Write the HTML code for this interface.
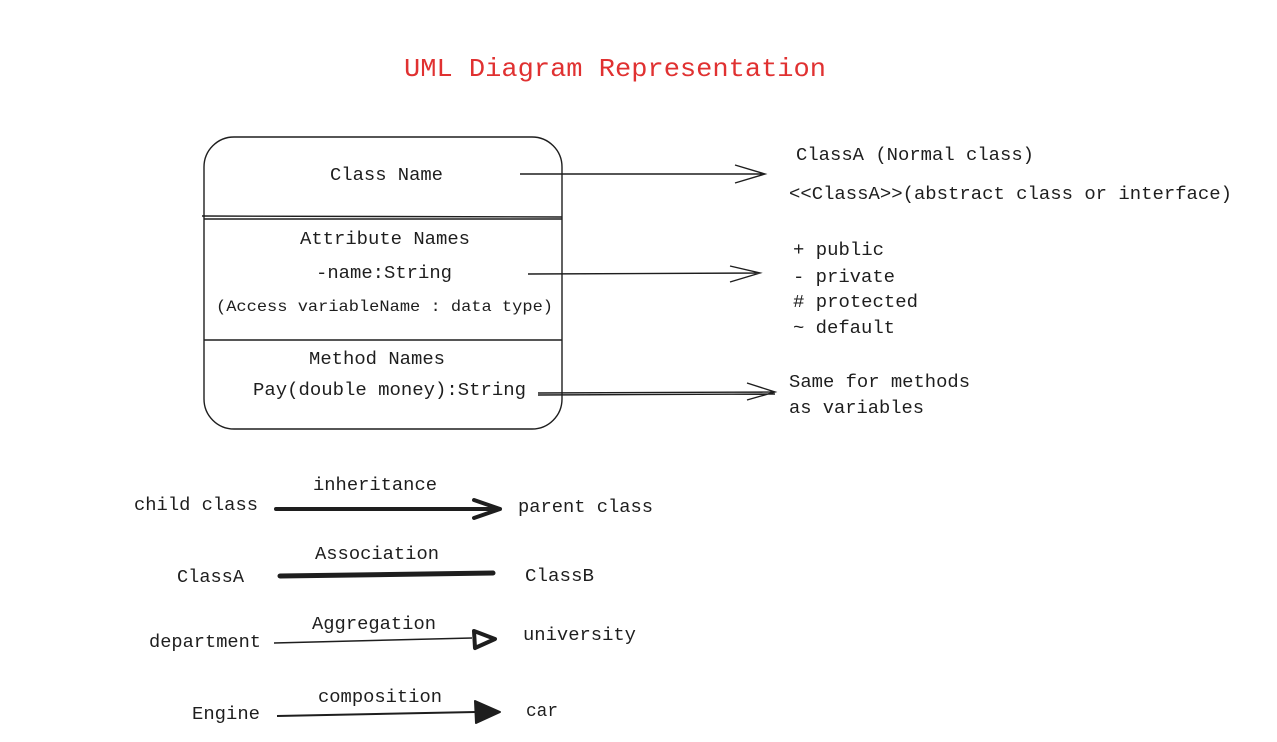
<!DOCTYPE html>
<html><head><meta charset="utf-8"><style>
html,body{margin:0;padding:0;background:#fff;}
svg{display:block;}
text{font-family:"Liberation Mono",monospace;fill:#1e1e1e;font-size:18px;}
</style></head><body>
<svg width="1277" height="742" viewBox="0 0 1277 742" xmlns="http://www.w3.org/2000/svg">
<rect width="1277" height="742" fill="#fff"/>
<text x="404" y="76" textLength="422" lengthAdjust="spacingAndGlyphs" style="font-size:26px;fill:#e03131">UML Diagram Representation</text>

<g fill="none" stroke="#1e1e1e" stroke-width="1.4">
<rect x="204" y="137" width="358" height="292" rx="30"/>
<line x1="202" y1="216" x2="562" y2="217"/>
<line x1="204" y1="219" x2="562" y2="219"/>
<line x1="204" y1="340" x2="562" y2="340"/>
<path d="M520 174 L765 174 M735 165 L765 174 L735 183"/>
<path d="M528 274 L760 273 M730 266 L760 273 L730 282"/>
<path d="M538 393 L775 392 M747 383 L775 392 L747 400 M538 395 L775 394"/>
</g>
<text x="330" y="180" textLength="113" lengthAdjust="spacingAndGlyphs">Class Name</text>
<text x="300" y="244" textLength="170" lengthAdjust="spacingAndGlyphs">Attribute Names</text>
<text x="316" y="278" textLength="136" lengthAdjust="spacingAndGlyphs">-name:String</text>
<text x="216" y="311" textLength="337" lengthAdjust="spacingAndGlyphs" style="font-size:16px">(Access variableName : data type)</text>
<text x="309" y="364" textLength="136" lengthAdjust="spacingAndGlyphs">Method Names</text>
<text x="253" y="395" textLength="273" lengthAdjust="spacingAndGlyphs">Pay(double money):String</text>

<text x="796" y="160" textLength="238" lengthAdjust="spacingAndGlyphs">ClassA (Normal class)</text>
<text x="789" y="199" textLength="443" lengthAdjust="spacingAndGlyphs">&lt;&lt;ClassA&gt;&gt;(abstract class or interface)</text>
<text x="793" y="255" textLength="91" lengthAdjust="spacingAndGlyphs">+ public</text>
<text x="793" y="282" textLength="102" lengthAdjust="spacingAndGlyphs">- private</text>
<text x="793" y="307" textLength="125" lengthAdjust="spacingAndGlyphs"># protected</text>
<text x="793" y="333" textLength="102" lengthAdjust="spacingAndGlyphs">~ default</text>
<text x="789" y="387" textLength="181" lengthAdjust="spacingAndGlyphs">Same for methods</text>
<text x="789" y="413" textLength="135" lengthAdjust="spacingAndGlyphs">as variables</text>

<text x="134" y="510" textLength="124" lengthAdjust="spacingAndGlyphs">child class</text>
<text x="313" y="490" textLength="124" lengthAdjust="spacingAndGlyphs">inheritance</text>
<text x="518" y="512" textLength="135" lengthAdjust="spacingAndGlyphs">parent class</text>
<path d="M276 509 L500 509 M474 500 L500 509 L474 518" fill="none" stroke="#1e1e1e" stroke-width="4" stroke-linecap="round" stroke-linejoin="round"/>

<text x="315" y="559" textLength="124" lengthAdjust="spacingAndGlyphs">Association</text>
<text x="177" y="582" textLength="67" lengthAdjust="spacingAndGlyphs">ClassA</text>
<text x="525" y="581" textLength="69" lengthAdjust="spacingAndGlyphs">ClassB</text>
<path d="M280 576 L493 573" stroke="#1e1e1e" stroke-width="5" stroke-linecap="round"/>

<text x="312" y="629" textLength="124" lengthAdjust="spacingAndGlyphs">Aggregation</text>
<text x="149" y="647" textLength="112" lengthAdjust="spacingAndGlyphs">department</text>
<text x="523" y="640" textLength="113" lengthAdjust="spacingAndGlyphs">university</text>
<path d="M274 643 L472 638" stroke="#1e1e1e" stroke-width="1.5"/>
<path d="M474 631 L495 639 L475 648 Z" fill="none" stroke="#1e1e1e" stroke-width="4" stroke-linejoin="round"/>

<text x="318" y="702" textLength="124" lengthAdjust="spacingAndGlyphs">composition</text>
<text x="192" y="719" textLength="68" lengthAdjust="spacingAndGlyphs">Engine</text>
<text x="526" y="716" textLength="32" lengthAdjust="spacingAndGlyphs">car</text>
<path d="M277 716 L476 712" stroke="#1e1e1e" stroke-width="2"/>
<path d="M475 701 L500 712 L476 723 Z" fill="#1e1e1e" stroke="#1e1e1e" stroke-width="2" stroke-linejoin="round"/>
</svg>
</body></html>
